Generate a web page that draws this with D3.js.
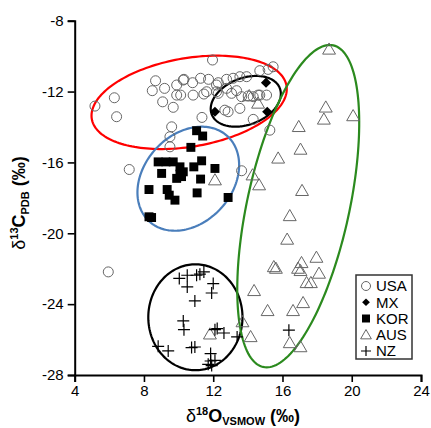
<!DOCTYPE html>
<html>
<head>
<meta charset="utf-8">
<script src="https://cdn.jsdelivr.net/npm/d3@7"></script>
<style>
  body { margin: 0; background: #fff; }
  text { font-family: Arial, "Liberation Sans", sans-serif; }
</style>
</head>
<body>
<svg id="chart"></svg>
<script>
// values: [d18O, d13C]
var usa = [
  [5.17, -12.82], [6.29, -12.35], [6.42, -13.42], [7.15, -16.40], [5.94, -22.18],
  [8.48, -11.95], [8.67, -11.39], [9.08, -12.58], [9.19, -11.82], [9.89, -11.63],
  [10.27, -11.35], [9.89, -12.20], [10.12, -12.20], [9.69, -12.89], [10.84, -12.20],
  [10.81, -11.50], [11.27, -11.25], [11.73, -11.31], [11.46, -12.14], [11.62, -12.01],
  [11.96, -10.22], [12.29, -11.50], [12.19, -12.01], [12.19, -11.63], [12.77, -11.31],
  [12.77, -11.82], [13.15, -11.25], [13.54, -11.16], [13.93, -11.16], [13.35, -11.95],
  [13.64, -12.29], [14.02, -12.25], [14.31, -12.29], [14.69, -12.20], [15.08, -12.20],
  [14.69, -10.82], [15.17, -10.75], [15.46, -10.60], [12.67, -13.05], [12.86, -13.14],
  [13.54, -12.95], [14.31, -13.57], [15.27, -14.18], [11.35, -13.46], [9.60, -13.99],
  [9.50, -14.55], [9.50, -15.12], [13.64, -16.47], [10.31, -11.31], [13.06, -12.10],
  [12.29, -12.10], [14.59, -12.20]
];
var mx = [[15.05, -11.50], [12.10, -13.14], [15.12, -13.14]];
var kor = [
  [11.04, -14.21], [11.39, -14.51], [10.71, -15.15], [8.82, -15.97], [9.27, -15.97],
  [9.69, -15.97], [10.08, -16.25], [10.27, -16.53], [9.02, -16.62], [9.89, -16.90],
  [10.17, -16.80], [10.88, -16.25], [11.33, -15.91], [12.10, -16.34], [11.27, -16.94],
  [8.29, -17.53], [9.34, -17.53], [9.46, -17.85], [9.79, -18.13], [11.07, -17.72],
  [12.86, -17.98], [8.29, -19.07], [8.44, -19.11], [10.08, -16.66]
];
var aus = [
  [18.69, -9.62], [18.50, -12.89], [18.39, -13.57], [20.08, -13.38], [16.94, -13.99],
  [17.04, -15.27], [15.75, -15.77], [14.27, -16.72], [14.65, -17.28], [17.13, -17.60],
  [16.42, -19.02], [14.08, -12.25], [14.59, -12.67], [12.10, -17.00], [16.27, -20.35],
  [17.96, -21.37], [17.10, -21.67], [15.50, -21.90], [15.62, -21.99], [16.90, -21.99],
  [17.04, -22.12], [18.11, -22.27], [17.39, -22.80], [17.64, -22.80], [14.36, -23.25],
  [17.19, -23.93], [15.14, -24.38], [16.61, -24.38], [13.69, -25.01], [14.16, -25.85],
  [16.42, -26.19], [17.04, -26.42], [11.81, -25.70]
];
var nz = [
  [10.04, -22.55], [10.50, -22.37], [11.04, -22.37], [11.23, -22.31], [11.46, -22.18],
  [12.00, -22.84], [11.91, -23.37], [10.50, -23.03], [10.94, -23.82], [10.27, -24.95],
  [10.31, -25.44], [12.10, -25.44], [12.23, -25.38], [12.62, -25.63], [13.38, -25.85],
  [8.82, -26.38], [9.40, -26.64], [10.75, -26.45], [10.94, -26.42], [11.85, -26.79],
  [11.85, -27.21], [12.10, -27.17], [11.71, -27.40], [11.91, -27.47], [16.37, -25.47]
];

// group ellipses: centre, semi-axes (data units), tilt in degrees
var ellipseNames = ['USA', 'MX', 'KOR', 'NZ', 'AUS'];
var ellipseCentres = [[10.61, -12.61], [13.88, -12.55], [10.56, -16.92], [10.97, -24.74], [16.91, -18.47]];
var ellipseAxes = [[5.7, 2.5], [2.1, 1.32], [3.3, 2.52], [2.72, 2.99], [9.3, 2.95]];
var ellipseTilt = [9.4, 20, 45, 0, 77.4];

var xTicks = [4, 8, 12, 16, 20, 24];
var yTicks = [-8, -12, -16, -20, -24, -28];
var legendLabels = ['USA', 'MX', 'KOR', 'AUS', 'NZ'];

var width = 431,
    height = 428;

var ellipseColor = { USA: '#ff0000', MX: '#000000', KOR: '#4a7ebb', NZ: '#000000', AUS: '#2b8a1e' };

var svg = d3.select('#chart')
    .attr('width', width)
    .attr('height', height);

var x = d3.scaleLinear().domain([4, 24]).range([74.7, 421]);
var y = d3.scaleLinear().domain([-28, -8]).range([375, 20.7]);

// axes
var xAxis = svg.append('g')
    .attr('transform', 'translate(0,' + y(-28) + ')')
    .call(d3.axisBottom(x).tickValues(xTicks).tickSize(7).tickPadding(3).tickFormat(function (d) { return String(d); }));
var yAxis = svg.append('g')
    .attr('transform', 'translate(' + x(4) + ',0)')
    .call(d3.axisLeft(y).tickValues(yTicks).tickSize(7).tickPadding(4).tickFormat(function (d) { return String(d); }));

[xAxis, yAxis].forEach(function (g) {
    g.select('.domain').attr('stroke', '#000').attr('stroke-width', 2);
    g.selectAll('.tick line').attr('stroke', '#000').attr('stroke-width', 1.6);
    g.selectAll('.tick text')
        .attr('fill', '#000')
        .style('font-size', '15px')
        .style('font-family', 'Arial, "Liberation Sans", sans-serif');
});

// ellipses
var line = d3.line()
    .x(function (p) { return x(p[0]); })
    .y(function (p) { return y(p[1]); })
    .curve(d3.curveLinearClosed);

function ellipsePoints(i) {
    var c = ellipseCentres[i], a = ellipseAxes[i][0], b = ellipseAxes[i][1];
    var th = ellipseTilt[i] * Math.PI / 180;
    return d3.range(0, 360, 2).map(function (deg) {
        var t = deg * Math.PI / 180;
        var u = a * Math.cos(t), v = b * Math.sin(t);
        return [c[0] + u * Math.cos(th) - v * Math.sin(th), c[1] + u * Math.sin(th) + v * Math.cos(th)];
    });
}

svg.append('g').selectAll('path')
    .data(ellipseNames)
    .enter().append('path')
    .attr('d', function (d, i) { return line(ellipsePoints(i)); })
    .attr('fill', 'none')
    .attr('stroke', function (d) { return ellipseColor[d]; })
    .attr('stroke-width', 2.2);

// markers
var triPath = d3.symbol(d3.symbolTriangle, 72)();
var sqPath = d3.symbol(d3.symbolSquare, 80)();
var diaPath = d3.symbol(d3.symbolSquare, 52)();
var crossPath = 'M-6,0H6M0,-6V6';

function drawUSA(g, data, r) {
    g.selectAll('circle').data(data).enter().append('circle')
        .attr('cx', function (d) { return x(d[0]); })
        .attr('cy', function (d) { return y(d[1]); })
        .attr('r', r)
        .attr('fill', 'none')
        .attr('stroke', '#666')
        .attr('stroke-width', 1);
}

var pts = svg.append('g');
drawUSA(pts.append('g'), usa, 5);

pts.append('g').selectAll('path').data(aus).enter().append('path')
    .attr('d', triPath)
    .attr('transform', function (d) { return 'translate(' + x(d[0]) + ',' + (y(d[1]) + 1) + ')'; })
    .attr('fill', 'none')
    .attr('stroke', '#666')
    .attr('stroke-width', 1);

pts.append('g').selectAll('path').data(kor).enter().append('path')
    .attr('d', sqPath)
    .attr('transform', function (d) { return 'translate(' + x(d[0]) + ',' + y(d[1]) + ')'; })
    .attr('fill', '#000');

pts.append('g').selectAll('path').data(mx).enter().append('path')
    .attr('d', diaPath)
    .attr('transform', function (d) { return 'translate(' + x(d[0]) + ',' + y(d[1]) + ') rotate(45)'; })
    .attr('fill', '#000');

pts.append('g').selectAll('path').data(nz).enter().append('path')
    .attr('d', crossPath)
    .attr('transform', function (d) { return 'translate(' + x(d[0]) + ',' + y(d[1]) + ')'; })
    .attr('fill', 'none')
    .attr('stroke', '#000')
    .attr('stroke-width', 1.2);

// legend
var legend = svg.append('g').attr('transform', 'translate(356,275)');
legend.append('rect')
    .attr('width', 56).attr('height', 84)
    .attr('fill', '#fff')
    .attr('stroke', '#333')
    .attr('stroke-width', 1.5);

var rowY = d3.scalePoint().domain(legendLabels).range([11, 76]);
var items = legend.selectAll('.item').data(legendLabels).enter().append('g')
    .attr('transform', function (d) { return 'translate(10,' + rowY(d) + ')'; });

items.each(function (d) {
    var g = d3.select(this);
    if (d === 'USA') {
        g.append('circle').attr('r', 4.5).attr('fill', 'none').attr('stroke', '#666');
    } else if (d === 'MX') {
        g.append('path').attr('d', d3.symbol(d3.symbolSquare, 30)()).attr('transform', 'rotate(45)').attr('fill', '#000');
    } else if (d === 'KOR') {
        g.append('path').attr('d', d3.symbol(d3.symbolSquare, 64)()).attr('fill', '#000');
    } else if (d === 'AUS') {
        g.append('path').attr('d', d3.symbol(d3.symbolTriangle, 50)()).attr('transform', 'translate(0,1)').attr('fill', 'none').attr('stroke', '#666');
    } else {
        g.append('path').attr('d', 'M-5,0H5M0,-5V5').attr('stroke', '#000').attr('stroke-width', 1.2);
    }
});

items.append('text')
    .attr('x', 10)
    .attr('dy', '0.36em')
    .style('font-size', '15px')
    .text(function (d) { return d; });

// axis titles
var xTitle = svg.append('text')
    .attr('x', 243)
    .attr('y', 422)
    .attr('text-anchor', 'middle')
    .style('font-size', '18px')
    .style('font-weight', 'bold');
xTitle.append('tspan').style('font-weight', 'normal').text('δ');
xTitle.append('tspan').attr('dy', -7).style('font-size', '11px').text('18');
xTitle.append('tspan').attr('dy', 7).text('O');
xTitle.append('tspan').attr('dy', 3).style('font-size', '11px').text('VSMOW');
xTitle.append('tspan').attr('dy', -3).text(' (‰)');

var yTitle = svg.append('text')
    .attr('transform', 'translate(25,203) rotate(-90)')
    .attr('text-anchor', 'middle')
    .style('font-size', '18px')
    .style('font-weight', 'bold');
yTitle.append('tspan').style('font-weight', 'normal').text('δ');
yTitle.append('tspan').attr('dy', -7).style('font-size', '11px').text('13');
yTitle.append('tspan').attr('dy', 7).text('C');
yTitle.append('tspan').attr('dy', 4).style('font-size', '11px').text('PDB');
yTitle.append('tspan').attr('dy', -4).text(' (‰)');
</script>
</body>
</html>
